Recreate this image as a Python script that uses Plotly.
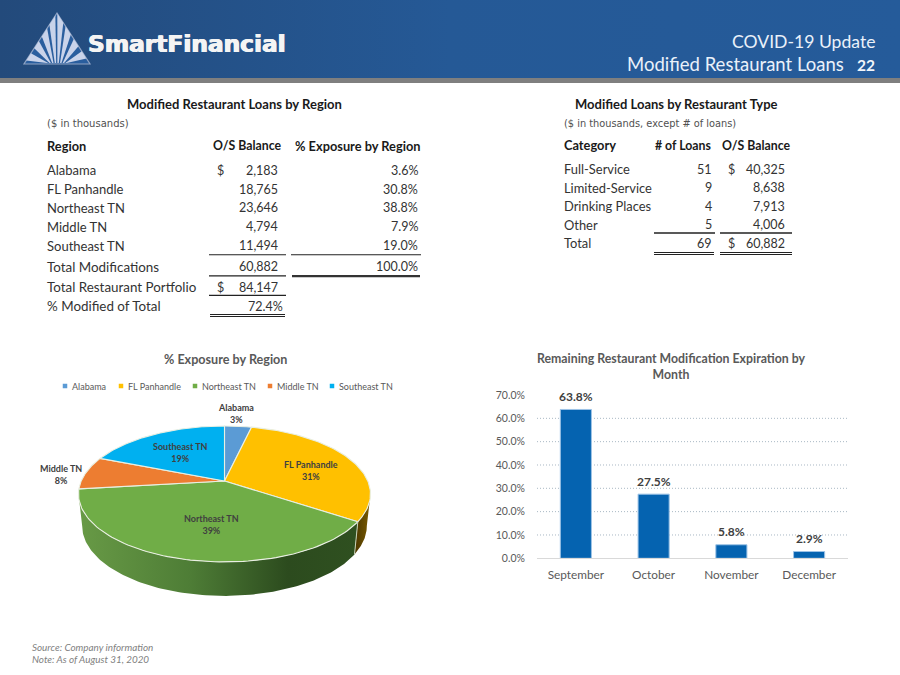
import numpy as np
import plotly.graph_objects as go

# ---------- data ----------
regions = ["Alabama", "FL Panhandle", "Northeast TN", "Middle TN", "Southeast TN"]
region_balance = [2183, 18765, 23646, 4794, 11494]
region_pct = [3.6, 30.8, 38.8, 7.9, 19.0]
pie_labels = ["3%", "31%", "39%", "8%", "19%"]
pie_colors = ["#5B9BD5", "#FFC000", "#70AD47", "#ED7D31", "#00B0F0"]
total_mods = 60882
total_pct = 100.0
total_portfolio = 84147
pct_modified = 72.4

categories = ["Full-Service", "Limited-Service", "Drinking Places", "Other"]
cat_loans = [51, 9, 4, 5]
cat_balance = [40325, 8638, 7913, 4006]
total_loans = 69

months = ["September", "October", "November", "December"]
month_pct = [63.8, 27.5, 5.8, 2.9]
y_ticks = [0, 10, 20, 30, 40, 50, 60, 70]

FONT = "Lato"
DARK = "#1a1a1a"
BODY = "#333333"
GREY = "#595959"
BS = 13.0   # body label size
LS = 13.4   # total row label size
NS = 12.5   # numeric cell size
HS = 12.8   # bold table header size
OS = 12.3   # narrower bold column headers
TS = 13.0   # bold table title size

fig = go.Figure()
annos, shapes = [], []


def T(x, y, s, size=BS, color=BODY, bold=False, anchor="left", font=FONT, italic=False, shadow=None):
    if bold:
        s = f"<b>{s}</b>"
    if italic:
        s = f"<i>{s}</i>"
    f = dict(family=font, size=size, color=color)
    if shadow:
        f["shadow"] = shadow
    annos.append(dict(x=x, y=y, xref="x2", yref="y2", text=s, showarrow=False, xanchor=anchor,
                      yanchor="middle", borderpad=0, font=f))


def rule(x0, x1, y, w=1.1, color="#222222"):
    shapes.append(dict(type="line", xref="x2", yref="y2", x0=x0, x1=x1, y0=y, y1=y,
                       line=dict(color=color, width=w), layer="above"))


def poly(xs, ys, **kw):
    d = dict(x=list(xs), y=list(ys), xaxis="x2", yaxis="y2", mode="lines", fill="toself",
             hoverinfo="skip", showlegend=False)
    d.update(kw)
    fig.add_trace(go.Scatter(**d))


# ---------- bar chart ----------
fig.add_trace(go.Bar(x=months, y=month_pct, marker=dict(color="#0563B0", line=dict(color="#9DC3E6", width=1)),
                     hoverinfo="skip", showlegend=False, xaxis="x", yaxis="y"))
for m, v in zip(months, month_pct):
    annos.append(dict(x=m, y=v, xref="x", yref="y", text=f"<b>{v:.1f}%</b>", showarrow=False, yshift=13,
                      font=dict(family=FONT, size=12, color="#404040")))
for t in y_ticks[1:-1]:
    shapes.append(dict(type="line", xref="x domain", yref="y", x0=0, x1=1, y0=t, y1=t, layer="below",
                       line=dict(color="#A9B8C4", width=1, dash="1px,2px")))

# ---------- header ----------
poly([0, 900, 900, 0], [0, 0, 78, 78], line=dict(width=0),
     fillgradient=dict(type="horizontal", colorscale=[[0, "#234A7B"], [0.5, "#255996"], [1, "#255B9A"]]))
poly([0, 900, 900, 0], [78, 78, 83, 83], line=dict(width=0), fillcolor="#7F7F7F")

# logo
AP, BL, BR = (57, 13), (24, 64), (90, 64)
shapes.append(dict(type="path", xref="x2", yref="y2", layer="above", fillcolor="#2A5E9E",
                   path=f"M{AP[0]},{AP[1]} L{BL[0]},{BL[1]} L{BR[0]},{BR[1]} Z",
                   line=dict(color="#8FA3C4", width=1.2)))


def edge(t):
    if t < 0:
        return (AP[0] + (BL[0] - AP[0]) * -t, AP[1] + (BL[1] - AP[1]) * -t)
    return (AP[0] + (BR[0] - AP[0]) * t, AP[1] + (BR[1] - AP[1]) * t)


for c, w in zip([-0.86, -0.62, -0.38, -0.14, 0.1, 0.34, 0.58, 0.82], [0.07, 0.07, 0.08, 0.09, 0.09, 0.08, 0.07, 0.07]):
    a, b = edge(c - w), edge(c + w)
    sx = 57 + c * 11
    shapes.append(dict(type="path", xref="x2", yref="y2", layer="above", fillcolor="#C9D3EA",
                       line=dict(width=0), path=f"M{sx - 0.7},63 L{a[0]},{a[1]} L{b[0]},{b[1]} L{sx + 0.7},63 Z"))

T(87, 43, "SmartFinancial", size=23.3, color="#F4F4F4", bold=True, font="DejaVu Sans",
  shadow="0.6px 0 0 #F4F4F4, -0.6px 0 0 #F4F4F4")
T(876, 41, "COVID-19 Update", size=17.6, color="#EAF1FA", anchor="right")
T(845, 64, "Modified Restaurant Loans", size=18.5, color="#EAF1FA", anchor="right")
T(876, 64.5, "22", size=15.5, color="#F2F6FB", bold=True, anchor="right")

# ---------- left table ----------
T(234, 104, "Modified Restaurant Loans by Region", size=TS, color=DARK, bold=True, anchor="center")
T(45.5, 123, "($ in thousands)", size=10, color="#505050", font="DejaVu Sans")
T(45.5, 145.5, "Region", size=HS, color=DARK, bold=True)
T(281.5, 145.5, "O/S Balance", size=OS, color=DARK, bold=True, anchor="right")
T(420.5, 145.5, "% Exposure by Region", size=HS, color=DARK, bold=True, anchor="right")
rows_y = [170, 189, 207.5, 226.5, 245.5]
for i, (r, b, p, y) in enumerate(zip(regions, region_balance, region_pct, rows_y)):
    T(45.5, y, r)
    T(278.5, y, f"{b:,}", size=NS, anchor="right")
    T(418.5, y, f"{p:.1f}%", size=NS, anchor="right")
    if i == 0:
        T(215.5, y, "$", size=NS)
T(45.5, 266.5, "Total Modifications", size=LS)
T(278.5, 266.5, f"{total_mods:,}", size=NS, anchor="right")
T(418.5, 266.5, f"{total_pct:.1f}%", size=NS, anchor="right")
T(45.5, 287, "Total Restaurant Portfolio", size=LS)
T(215.5, 287, "$", size=NS)
T(278.5, 287, f"{total_portfolio:,}", size=NS, anchor="right")
T(45.5, 306, "% Modified of Total", size=LS)
T(283.5, 306, f"{pct_modified:.1f}%", size=NS, anchor="right")
rule(209, 286, 254.7)
rule(291, 421, 254.7)
rule(209, 286, 275.8, 1.3)
rule(292, 420, 276.1, 2.2, "#333333")
rule(209, 286, 295.4, 1.3)
rule(210, 285, 314.5, 1)
rule(210, 285, 316.5, 1)

# ---------- right table ----------
T(676, 104, "Modified Loans by Restaurant Type", size=TS, color=DARK, bold=True, anchor="center")
T(562.5, 123, "($ in thousands, except # of loans)", size=9.8, color="#505050", font="DejaVu Sans")
T(562.5, 145, "Category", size=HS, color=DARK, bold=True)
T(712.5, 145, "# of Loans", size=OS, color=DARK, bold=True, anchor="right")
T(790.5, 145, "O/S Balance", size=OS, color=DARK, bold=True, anchor="right")
rows2_y = [169, 187.5, 206, 224.5]
for i, (c, n, b, y) in enumerate(zip(categories, cat_loans, cat_balance, rows2_y)):
    T(562.5, y, c, size=12.9)
    T(712.5, y, f"{n}", size=NS, anchor="right")
    T(786, y, f"{b:,}", size=NS, anchor="right")
    if i == 0:
        T(726.5, y, "$", size=NS)
T(562.5, 243, "Total", size=12.9)
T(712.5, 243, f"{total_loans}", size=NS, anchor="right")
T(726.5, 243, "$", size=NS)
T(786, 243, f"{total_mods:,}", size=NS, anchor="right")
rule(654, 715, 233, 1.3)
rule(720, 792, 233, 1.3)
for yy in (252.5, 254.5):
    rule(654, 714, yy, 1)
    rule(720, 792, yy, 1)

# ---------- pie (perspective projection of a disc, angles from the data) ----------
CX, CY, R, S, K = 224.5, 481, 143.3, 65.5, 0.191


def rim(theta):
    u, v = np.sin(theta), np.cos(theta)
    w = 1 + K * v
    return R * u / w, -S * v / w


def top_pt(th):
    x, y = rim(th)
    return CX + x, CY + y


def bot_pt(th):
    x, y = rim(th)
    return CX + 0.975 * x, CY + 31.5 + 1.03 * y


cum = np.concatenate([[0], np.cumsum(region_pct)]) / sum(region_pct) * 2 * np.pi
TH_R, TH_L = np.radians(101), np.radians(259)

# side wall
th = np.linspace(TH_R, cum[2], 30)
xt, yt = top_pt(th)
xb, yb = bot_pt(th)
poly(np.r_[xt, xb[::-1]], np.r_[yt, yb[::-1]], line=dict(width=0),
     fillgradient=dict(type="horizontal", colorscale=[[0, "#4A3600"], [1, "#7A5B00"]]))
th = np.linspace(cum[2], TH_L, 120)
xt, yt = top_pt(th)
xb, yb = bot_pt(th)
poly(np.r_[xt, xb[::-1]], np.r_[yt, yb[::-1]], line=dict(width=0),
     fillgradient=dict(type="horizontal",
                       colorscale=[[0, "#689A46"], [0.4, "#4E7D36"], [0.75, "#2C4B1E"], [1, "#2F5020"]]))
sx0, sy0 = top_pt(cum[2])
sx1, sy1 = bot_pt(cum[2])
shapes.append(dict(type="line", xref="x2", yref="y2", x0=sx0, y0=sy0, x1=sx1, y1=sy1, layer="above",
                   line=dict(color="#C8D2B8", width=1)))

# top faces
for i, (name, col) in enumerate(zip(regions, pie_colors)):
    th = np.linspace(cum[i], cum[i + 1], 90)
    xs, ys = top_pt(th)
    poly(np.r_[CX, xs, CX], np.r_[CY, ys, CY], fillcolor=col, name=name,
         line=dict(color="#E9EFE2", width=1.1))

pie_label_pos = [(236, 413), (311, 470), (211, 524), (61, 474.5), (180, 452)]
for name, lab, (x, y) in zip(regions, pie_labels, pie_label_pos):
    T(x, y, f"{name}<br>{lab}", size=9, color="#404040", bold=True, anchor="center")

T(225, 359, "% Exposure by Region", size=12.6, color=GREY, bold=True, anchor="center")
leg_x = [65, 121, 195, 270, 332]
fig.add_trace(go.Scatter(x=leg_x, y=[386] * 5, xaxis="x2", yaxis="y2", mode="markers", hoverinfo="skip",
                         showlegend=False, marker=dict(symbol="square", size=4.5, color=pie_colors)))
for x, name in zip(leg_x, regions):
    T(x + 6, 386, name, size=9, color=GREY)

T(670.5, 366, "Remaining Restaurant Modification Expiration by<br>Month", size=12.3, color=GREY, bold=True, anchor="center")

# footer
T(31, 647, "Source: Company information", size=9.9, color="#7F7F7F", italic=True)
T(31, 659, "Note: As of August 31, 2020", size=9.9, color="#7F7F7F", italic=True)

fig.update_layout(
    width=900, height=675, margin=dict(l=0, r=0, t=0, b=0, autoexpand=False), paper_bgcolor="white",
    plot_bgcolor="rgba(0,0,0,0)",
    showlegend=False, bargap=0.6, annotations=annos, shapes=shapes,
    font=dict(family=FONT),
    xaxis=dict(domain=[537 / 900, 848 / 900], anchor="y", showgrid=False, showline=True, linecolor="#D9D9D9",
               ticks="outside", ticklen=6, tickcolor="rgba(0,0,0,0)", tickfont=dict(size=11.8, color=GREY),
               categoryorder="array", categoryarray=months, fixedrange=True, automargin=False),
    yaxis=dict(domain=[1 - 558.3 / 675, 1 - 395 / 675], anchor="x", range=[0, 70], tickvals=y_ticks,
               ticktext=[f"{t:.1f}%" for t in y_ticks], showgrid=False, zeroline=False, showline=False,
               ticks="outside", ticklen=9, tickcolor="rgba(0,0,0,0)",
               tickfont=dict(size=10.5, color=GREY), fixedrange=True, automargin=False),
    xaxis2=dict(domain=[0, 1], range=[0, 900], visible=False, anchor="y2", fixedrange=True, automargin=False),
    yaxis2=dict(domain=[0, 1], range=[675, 0], visible=False, anchor="x2", fixedrange=True, automargin=False),
)
fig.write_html("out.html", config=dict(displayModeBar=False),
               post_script="document.body.style.margin='0';")
